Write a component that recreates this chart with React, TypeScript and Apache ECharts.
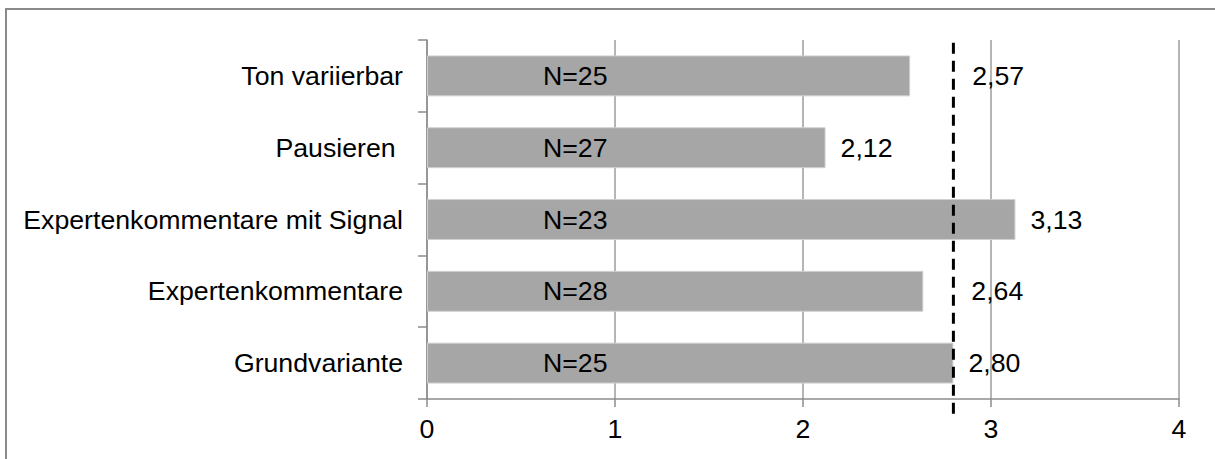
import React, { useEffect, useRef } from "react";
import * as echarts from "echarts";

const categories = [
  "Ton variierbar",
  "Pausieren ",
  "Expertenkommentare mit Signal",
  "Expertenkommentare",
  "Grundvariante",
];
const meanValues = [2.57, 2.12, 3.13, 2.64, 2.8];
const nValues = [25, 27, 23, 28, 25];
const referenceValue = 2.8;
const xTicks = [0, 1, 2, 3, 4];

const FONT = "'Liberation Sans', Arial, sans-serif";
const FS = 26.7;

export default function App() {
  const ref = useRef<HTMLDivElement>(null);
  useEffect(() => {
    if (!ref.current) return;
    const chart = echarts.init(ref.current, undefined, { renderer: "svg" });
    const labelShift: Record<number, number> = { 0: 47, 3: 33 };
    chart.setOption({
      animation: false,
      textStyle: { fontFamily: FONT, color: "#000" },
      graphic: [
        {
          type: "rect",
          shape: { x: 6, y: 9, width: 1260, height: 480 },
          style: { fill: "none", stroke: "#8a8a8a", lineWidth: 2 },
          silent: true,
        },
      ],
      grid: { left: 427, right: 36, top: 40, bottom: 60, containLabel: false },
      xAxis: {
        type: "value",
        min: xTicks[0],
        max: xTicks[xTicks.length - 1],
        interval: 1,
        axisLine: { show: true, lineStyle: { color: "#8c8c8c", width: 1.5 } },
        axisTick: { show: true, length: 8, lineStyle: { color: "#8c8c8c", width: 1.5 } },
        splitLine: { show: true, lineStyle: { color: "#9c9c9c", width: 1.5 } },
        axisLabel: { fontSize: FS, color: "#000", margin: 16, fontFamily: FONT },
      },
      yAxis: [
        {
          type: "category",
          inverse: true,
          data: categories,
          axisLine: { show: true, lineStyle: { color: "#8c8c8c", width: 1.5 } },
          axisTick: { show: true, length: 9, lineStyle: { color: "#8c8c8c", width: 1.5 } },
          axisLabel: { fontSize: FS, color: "#000", margin: 24, fontFamily: FONT },
        },
        { type: "value", min: 0, max: 1, show: false },
      ],
      series: [
        {
          type: "bar",
          data: meanValues.map((v, i) => ({
            value: v,
            label: {
              offset: [labelShift[i] || 0, 0],
            },
          })),
          barCategoryGap: "43%",
          itemStyle: { color: "#a6a6a6", borderColor: "#d0d0d0", borderWidth: 1 },
          label: {
            show: true,
            position: "right",
            distance: 15,
            fontSize: FS,
            color: "#000",
            fontFamily: FONT,
            formatter: (p: any) => Number(p.value).toFixed(2).replace(".", ","),
          },
          z: 2,
        },
        {
          type: "bar",
          data: meanValues,
          barGap: "-100%",
          barCategoryGap: "43%",
          itemStyle: { color: "rgba(0,0,0,0)" },
          label: {
            show: true,
            position: [116, "50%"],
            align: "left",
            verticalAlign: "middle",
            fontSize: FS,
            color: "#000",
            fontFamily: FONT,
            formatter: (p: any) => "N=" + nValues[p.dataIndex],
          },
          z: 3,
        },
        {
          type: "line",
          xAxisIndex: 0,
          yAxisIndex: 1,
          data: [
            [referenceValue, 0.992],
            [referenceValue, -0.045],
          ],
          symbol: "none",
          clip: false,
          lineStyle: { color: "#000", width: 3, type: [11, 7] },
          z: 4,
        },
      ],
    });
    return () => chart.dispose();
  }, []);
  return (
    <div
      ref={ref}
      style={{ position: "absolute", left: 0, top: 0, width: 1215, height: 459, background: "#fff" }}
    />
  );
}
